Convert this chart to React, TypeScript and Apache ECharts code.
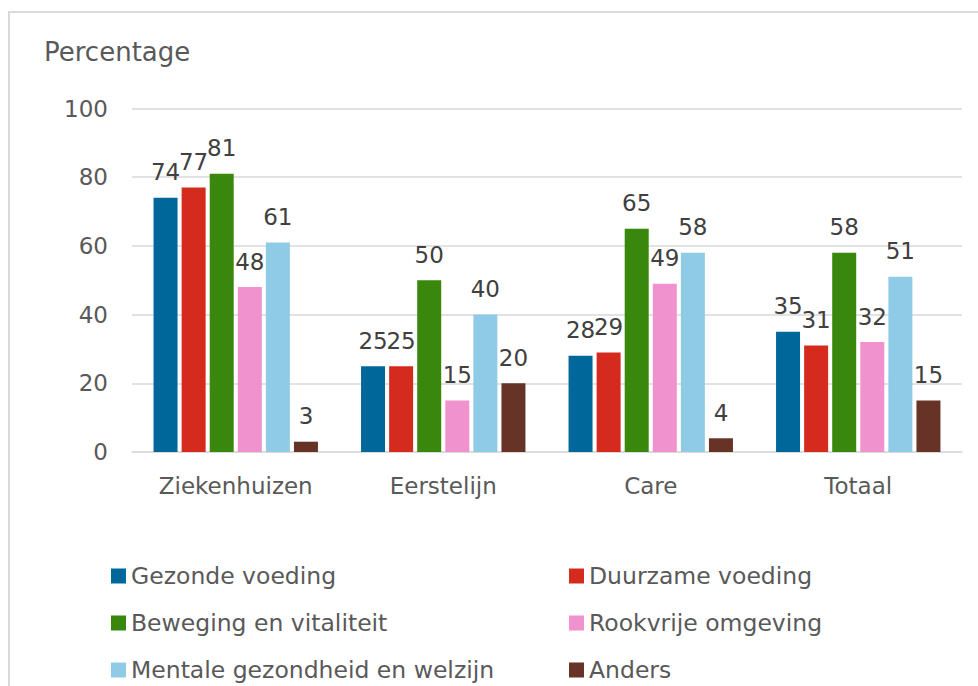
import React, { useEffect, useRef } from "react";
import * as echarts from "echarts";

const categories = ["Ziekenhuizen", "Eerstelijn", "Care", "Totaal"];
const seriesNames = [
  "Gezonde voeding",
  "Duurzame voeding",
  "Beweging en vitaliteit",
  "Rookvrije omgeving",
  "Mentale gezondheid en welzijn",
  "Anders",
];
const gezondeVoeding = [74, 25, 28, 35];
const duurzameVoeding = [77, 25, 29, 31];
const bewegingVitaliteit = [81, 50, 65, 58];
const rookvrijeOmgeving = [48, 15, 49, 32];
const mentaleGezondheid = [61, 40, 58, 51];
const anders = [3, 20, 4, 15];
const seriesValues = [
  gezondeVoeding,
  duurzameVoeding,
  bewegingVitaliteit,
  rookvrijeOmgeving,
  mentaleGezondheid,
  anders,
];
const colors = ["#00679a", "#d52b1e", "#39870c", "#f092cd", "#8fcae7", "#673327"];
const yTicks = [0, 20, 40, 60, 80, 100];

const FONT = "DejaVu Sans, Verdana, sans-serif";

export default function App() {
  const ref = useRef<HTMLDivElement>(null);
  useEffect(() => {
    if (!ref.current) return;
    const chart = echarts.init(ref.current, null, { renderer: "svg" });
    const legendBase = {
      orient: "vertical",
      top: 564,
      height: 120,
      padding: 0,
      itemWidth: 15,
      itemHeight: 15,
      itemGap: 23,
      icon: "rect",
      textStyle: { fontFamily: FONT, fontSize: 23.5, color: "#595959" },
    };
    chart.setOption({
      animation: false,
      textStyle: { fontFamily: FONT },
      title: {
        text: "Percentage",
        left: 39,
        top: 34,
        textStyle: { fontFamily: FONT, fontSize: 26, fontWeight: "normal", color: "#595959" },
      },
      graphic: [
        {
          type: "rect",
          shape: { x: 9, y: 12, width: 1000, height: 700 },
          style: { fill: "none", stroke: "#d9d9d9", lineWidth: 2 },
          silent: true,
        },
      ],
      legend: [
        { ...legendBase, left: 111, data: [seriesNames[0], seriesNames[2], seriesNames[4]] },
        { ...legendBase, left: 569, data: [seriesNames[1], seriesNames[3], seriesNames[5]] },
      ],
      grid: { left: 132, right: 16, top: 108.5, bottom: 234, containLabel: false },
      xAxis: {
        type: "category",
        data: categories,
        axisTick: { show: false },
        axisLine: { lineStyle: { color: "#d9d9d9", width: 1.5 } },
        axisLabel: { fontFamily: FONT, fontSize: 23, color: "#595959", margin: 22 },
      },
      yAxis: {
        type: "value",
        min: yTicks[0],
        max: yTicks[yTicks.length - 1],
        interval: 20,
        axisLine: { show: false },
        axisTick: { show: false },
        splitLine: { lineStyle: { color: "#d9d9d9", width: 1.5 } },
        axisLabel: { fontFamily: FONT, fontSize: 23, color: "#595959", margin: 24 },
      },
      series: seriesNames.map((name, i) => ({
        name,
        type: "bar",
        data: seriesValues[i],
        barWidth: 24,
        barGap: "17%",
        itemStyle: { color: colors[i] },
        label: {
          show: true,
          position: "top",
          distance: 14,
          fontFamily: FONT,
          fontSize: 23,
          color: "#404040",
        },
      })),
    });
    return () => chart.dispose();
  }, []);
  return (
    <div
      ref={ref}
      style={{ position: "fixed", left: 0, top: 0, width: 978, height: 686, background: "#fff" }}
    />
  );
}
